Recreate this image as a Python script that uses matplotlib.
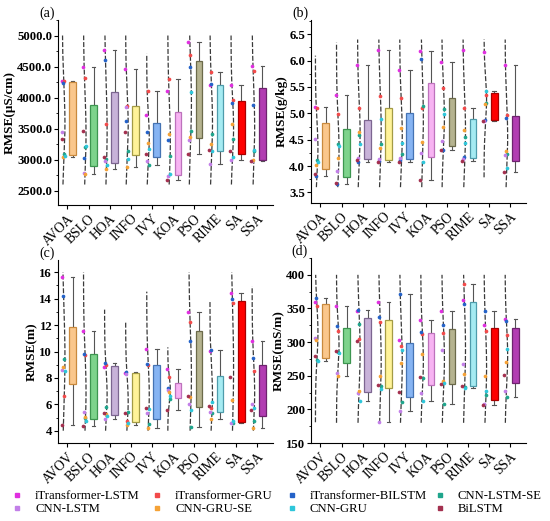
import numpy as np
import matplotlib
matplotlib.use('Agg')
import matplotlib.pyplot as plt
from matplotlib.lines import Line2D
from matplotlib.ticker import MultipleLocator, FormatStrFormatter

plt.rcParams['font.family'] = ['Liberation Serif', 'DejaVu Serif']

# ---------------- data ----------------
cats_ab = ['AVOA', 'BSLO', 'HOA', 'INFO', 'IVY', 'KOA', 'PSO', 'RIME', 'SA', 'SSA']
cats_cd = ['AVOV', 'BSLO', 'HOA', 'INFO', 'IVY', 'KOA', 'PSO', 'RIME', 'SA', 'SSA']
models = ['iTransformer-LSTM', 'iTransformer-GRU', 'iTransformer-BILSTM', 'CNN-LSTM-SE',
          'CNN-LSTM', 'CNN-GRU-SE', 'CNN-GRU', 'BiLSTM']

# panel (a) RMSE (uS/cm), one list per model over the 10 optimisers
a_itlstm = [4270, 4489, 4770, 4468, 3726, 4113, 4898, 4199, 4210, 4516]
a_itgru = [4260, 4317, 3575, 3870, 4113, 4306, 4694, 4414, 3968, 4436]
a_itbilstm = [4230, 3027, 4600, 3629, 3441, 3323, 4489, 4220, 3914, 3887]
a_cnnlstmse = [3090, 3199, 3010, 3135, 2909, 3054, 3468, 3419, 3333, 3145]
a_cnnlstm = [3440, 2785, 2975, 3850, 2984, 2742, 3323, 2930, 2989, 2980]
a_cnngruse = [3040, 2769, 2850, 2876, 3269, 3414, 3360, 3253, 3575, 2995]
a_cnngru = [3060, 3226, 2920, 3016, 3178, 2774, 4091, 3140, 3038, 3161]
a_bilstm = [3340, 3457, 3045, 3441, 3092, 2678, 3097, 3150, 3135, 2985]

# panel (b) RMSE (g/kg)
b_itlstm = [5.12, 5.35, 5.92, 6.21, 5.82, 6.18, 5.98, 6.21, 6.16, 5.92]
b_itgru = [5.10, 4.98, 5.11, 5.33, 5.30, 5.10, 5.49, 5.11, 5.34, 4.97]
b_itbilstm = [3.82, 3.66, 4.08, 4.10, 4.11, 6.03, 4.30, 4.17, 4.88, 4.92]
b_cnnlstmse = [4.12, 4.42, 4.58, 4.42, 4.23, 5.13, 5.08, 4.56, 5.20, 4.23]
b_cnnlstm = [4.52, 3.90, 4.16, 4.14, 4.15, 4.25, 4.47, 4.13, 4.86, 4.21]
b_cnngruse = [4.03, 4.15, 4.64, 4.35, 4.72, 4.46, 4.75, 4.68, 5.18, 4.28]
b_cnngru = [4.08, 4.38, 4.42, 4.89, 4.43, 4.08, 4.98, 4.43, 5.42, 3.97]
b_bilstm = [3.85, 3.68, 4.12, 4.07, 4.08, 3.73, 4.31, 4.10, 4.86, 3.89]

# panel (c) RMSE (m)
c_itlstm = [15.67, 11.58, 8.85, 8.38, 10.22, 8.65, 13.0, 10.05, 14.40, 10.8]
c_itgru = [6.6, 9.74, 8.97, 4.76, 8.98, 8.10, 12.25, 5.72, 13.65, 8.5]
c_itbilstm = [14.2, 9.81, 9.15, 8.42, 9.05, 7.20, 10.8, 10.12, 13.95, 9.5]
c_cnnlstmse = [9.45, 4.96, 5.80, 5.43, 4.50, 6.40, 4.25, 5.35, 4.62, 4.7]
c_cnnlstm = [8.62, 5.45, 4.86, 8.30, 5.35, 7.10, 6.05, 5.45, 4.55, 6.05]
c_cnngruse = [8.85, 5.07, 5.26, 4.43, 4.18, 6.95, 6.55, 4.88, 6.30, 4.2]
c_cnngru = [8.55, 4.76, 5.12, 4.62, 5.65, 6.60, 5.55, 6.20, 4.72, 5.75]
c_bilstm = [4.45, 4.36, 5.35, 5.35, 5.72, 5.55, 6.65, 5.85, 8.05, 5.6]

# panel (d) RMSE (mS/m)
d_itlstm = [359.4, 354, 345.5, 359, 302.5, 333, 346.5, 362, 326, 334]
d_itgru = [354, 317, 304, 330, 294.5, 312, 313, 386, 316, 311]
d_itbilstm = [365.3, 324, 348, 337, 371, 315, 325.7, 356, 346.5, 331]
d_cnnlstmse = [273.8, 285.5, 327, 234, 211, 246, 208, 233.5, 221, 218]
d_cnnlstm = [306, 254, 224, 181, 197, 225, 288.6, 267, 208, 228]
d_cnngruse = [303.5, 249, 228, 250, 268.8, 282, 242, 253, 250, 271]
d_cnngru = [271.3, 284, 212, 230, 288.6, 212, 239.5, 232, 228, 290]
d_bilstm = [279.7, 287, 301, 236, 226, 248, 237, 235, 206, 251]

# ---------------- style ----------------
model_colors = ['#E02FE0', '#F24A4A', '#2462C8', '#1FA58C', '#C27FE8', '#F5A236', '#2EC6DA', '#A3304F']
box_face = ['#FAC78C', '#7ED38C', '#C8B2D9', '#FFF399', '#86B4F3', '#F7B3F2', '#B5B38F', '#A5EBF2', '#FF0000', '#B23DB2']
box_edge = ['#C98A3E', '#3D9650', '#7C6590', '#A39B45', '#4573B3', '#BD72BC', '#6B6A4A', '#4E9CAB', '#A80000', '#6E236E']
jit = [-0.06, 0.03, -0.01, 0.05, -0.04, 0.01, 0.06, -0.08]

panels = [
    dict(label='(a)', cats=cats_ab, ylabel='RMSE(μS/cm)',
         series=[a_itlstm, a_itgru, a_itbilstm, a_cnnlstmse, a_cnnlstm, a_cnngruse, a_cnngru, a_bilstm],
         ylim=(2270, 5250), major=500, fmt='%.1f', clip=(2600, 5000),
         rect=(58, 20, 273, 205)),
    dict(label='(b)', cats=cats_ab, ylabel='RMSE(g/kg)',
         series=[b_itlstm, b_itgru, b_itbilstm, b_cnnlstmse, b_cnnlstm, b_cnngruse, b_cnngru, b_bilstm],
         ylim=(3.3, 6.77), major=0.5, fmt='%.1f', clip=(3.6, 6.4),
         rect=(311, 20, 526, 203)),
    dict(label='(c)', cats=cats_cd, ylabel='RMSE(m)',
         series=[c_itlstm, c_itgru, c_itbilstm, c_cnnlstmse, c_cnnlstm, c_cnngruse, c_cnngru, c_bilstm],
         ylim=(3.07, 16.93), major=2, fmt='%d', clip=(4, 16),
         rect=(58, 260, 273, 443)),
    dict(label='(d)', cats=cats_cd, ylabel='RMSE(mS/m)',
         series=[d_itlstm, d_itgru, d_itbilstm, d_cnnlstmse, d_cnnlstm, d_cnngruse, d_cnngru, d_bilstm],
         ylim=(150, 425), major=50, fmt='%d', clip=(180, 400),
         rect=(311, 258, 526, 443)),
]

W, H = 550, 521
fig = plt.figure(figsize=(W / 100, H / 100), dpi=100)


def tukey_stats(vals):
    v = np.sort(np.asarray(vals, dtype=float))
    n = len(v)
    half = n // 2
    q1 = np.median(v[:half])
    q3 = np.median(v[n - half:])
    med = np.median(v)
    iqr = q3 - q1
    hi = v[v <= q3 + 1.5 * iqr].max()
    lo = v[v >= q1 - 1.5 * iqr].min()
    return dict(med=med, q1=q1, q3=q3, whislo=lo, whishi=hi, fliers=[])


for p in panels:
    l, t, r, b = p['rect']
    ax = fig.add_axes([l / W, 1 - b / H, (r - l) / W, (b - t) / H])
    data = np.array(p['series'])  # models x cats
    ncat = data.shape[1]
    pos = np.arange(1, ncat + 1)

    # density curves
    lo_c, hi_c = p['clip']
    for i in range(ncat):
        vals = data[:, i]
        m, s = vals.mean(), vals.std(ddof=1)
        y0 = max(lo_c, m - 3.35 * s)
        y1 = min(hi_c, m + 3.35 * s)
        yy = np.linspace(y0, y1, 200)
        pdf = np.exp(-0.5 * ((yy - m) / s) ** 2)
        ax.plot(pos[i] - 0.24 + 0.12 * pdf, yy, color='#3a3a3a', lw=0.9,
                ls=(0, (4, 1.5)), zorder=2)

    # boxes
    stats = [tukey_stats(data[:, i]) for i in range(ncat)]
    bp = ax.bxp(stats, positions=pos + 0.24, widths=0.32, patch_artist=True,
                showfliers=False, manage_ticks=False,
                whiskerprops=dict(color='#555555', lw=0.8),
                capprops=dict(color='#555555', lw=0.8),
                medianprops=dict(color='#333333', lw=1.0),
                capwidths=0.16)
    for i, patch in enumerate(bp['boxes']):
        patch.set_facecolor(box_face[i])
        patch.set_edgecolor(box_edge[i])
        patch.set_linewidth(0.9)
        patch.set_zorder(3)

    # points
    for k in range(data.shape[0]):
        ax.scatter(pos - 0.2 + jit[k], data[k], s=7, color=model_colors[k],
                   linewidths=0, zorder=4)

    ax.set_xlim(0.55, 10.75)
    ax.set_ylim(*p['ylim'])
    ax.set_xticks(pos)
    ax.set_xticklabels(p['cats'], rotation=45, ha='right', rotation_mode='anchor',
                       fontsize=9.8)
    ax.yaxis.set_major_locator(MultipleLocator(p['major']))
    ax.yaxis.set_minor_locator(MultipleLocator(p['major'] / 2))
    ax.yaxis.set_major_formatter(FormatStrFormatter(p['fmt']))
    for lab in ax.get_yticklabels():
        lab.set_fontweight('bold')
        lab.set_fontsize(9.2)
    ax.tick_params(axis='both', which='major', direction='out', length=3, width=0.8)
    ax.tick_params(axis='y', which='minor', direction='out', length=1.8, width=0.6)
    ax.tick_params(axis='y', pad=1.2)
    ax.tick_params(axis='x', pad=2)
    ax.spines['top'].set_visible(False)
    ax.spines['right'].set_visible(False)
    ax.set_ylabel(p['ylabel'], fontsize=9.5, fontweight='bold', labelpad=1)
    fig.text((l - 11) / W, 1 - (t - 7) / H, p['label'], fontsize=10,
             ha='center', va='center')

# legend: 4 columns, 2 rows (row 1: models 0-3, row 2: models 4-7)
text_x = [35, 175, 310, 458]
fs = 9.2
for c in range(4):
    idx = [c, c + 4]
    hs = [Line2D([], [], marker='s', ls='none', ms=2.2, color=model_colors[i]) for i in idx]
    anchor_x = text_x[c] - (1.0 + 0.9) * fs * 100 / 72
    fig.legend(hs, [models[i] for i in idx], loc='upper left',
               bbox_to_anchor=(anchor_x / W, 1 - 490 / H), frameon=False,
               fontsize=fs, handlelength=1.0, handletextpad=0.9,
               labelspacing=0.1, borderpad=0, borderaxespad=0)

fig.savefig('out.png', dpi=100)
